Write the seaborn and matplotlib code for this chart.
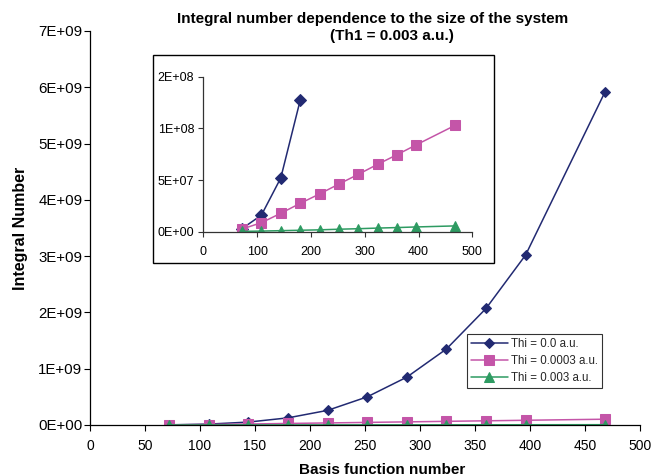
import matplotlib
matplotlib.use("Agg")
import matplotlib.pyplot as plt
import seaborn as sns
import pandas as pd
from matplotlib.patches import Rectangle
from matplotlib.ticker import FuncFormatter, MultipleLocator

# ---- data ----
basis = [72, 108, 144, 180, 216, 252, 288, 324, 360, 396, 468]
thi_00 = [3.0e6, 1.6e7, 5.2e7, 1.27e8, 2.6e8, 5.0e8, 8.5e8, 1.35e9, 2.07e9, 3.02e9, 5.91e9]
thi_0003 = [2.6e6, 8.7e6, 1.78e7, 2.74e7, 3.65e7, 4.61e7, 5.55e7, 6.52e7, 7.45e7, 8.41e7, 1.029e8]
thi_003 = [3.0e5, 6.0e5, 1.0e6, 1.4e6, 1.8e6, 2.4e6, 2.9e6, 3.5e6, 4.0e6, 4.6e6, 5.6e6]
inset_n00 = 4  # the inset shows only the first four points of the Thi = 0.0 series

labels = ["Thi = 0.0 a.u.", "Thi = 0.0003 a.u.", "Thi = 0.003 a.u."]
title1 = "Integral number dependence to the size of the system"
title2 = "(Th1 = 0.003 a.u.)"
xlabel = "Basis function number"
ylabel = "Integral Number"

c_blue = "#222a72"
c_mag = "#c455a8"
c_green = "#2e9b62"

sns.set_theme(style="white")
plt.rcParams["font.family"] = ["Liberation Sans", "DejaVu Sans"]

fig = plt.figure(figsize=(6.56, 4.76), dpi=100)
W, H = 656, 476

def fx(px):
    return px / W

def fy(py):
    return 1 - py / H

# main axes: x 90..640 px, y 31..425 px
ax = fig.add_axes([fx(90), fy(425), fx(640) - fx(90), fy(31) - fy(425)])
df = pd.DataFrame({"x": basis, "a": thi_00, "b": thi_0003, "c": thi_003})

sns.lineplot(data=df, x="x", y="a", ax=ax, color=c_blue, marker="D", markersize=5.5,
             markeredgecolor=c_blue, linewidth=1.1, label=labels[0], estimator=None, sort=False)
sns.lineplot(data=df, x="x", y="b", ax=ax, color=c_mag, marker="s", markersize=6.5,
             markeredgecolor=c_mag, linewidth=1.1, label=labels[1], estimator=None, sort=False)
sns.lineplot(data=df, x="x", y="c", ax=ax, color=c_green, marker="^", markersize=6.5,
             markeredgecolor=c_green, linewidth=1.1, label=labels[2], estimator=None, sort=False)

ax.set_xlim(0, 500)
ax.set_ylim(0, 7e9)
ax.xaxis.set_major_locator(MultipleLocator(50))
ax.yaxis.set_major_locator(MultipleLocator(1e9))
sci = FuncFormatter(lambda v, p: format(v, ".0E"))
ax.yaxis.set_major_formatter(sci)
ax.xaxis.set_major_formatter(FuncFormatter(lambda v, p: f"{v:.0f}"))
for s in ["top", "right"]:
    ax.spines[s].set_visible(False)
for s in ["left", "bottom"]:
    ax.spines[s].set_color("black")
    ax.spines[s].set_linewidth(0.9)
ax.tick_params(axis="both", which="major", direction="out", length=4, width=0.8,
               color="black", labelcolor="black")
ax.tick_params(axis="x", pad=6, labelsize=10)
ax.tick_params(axis="y", pad=1.5, labelsize=10.8)
ax.tick_params(left=True, bottom=True)
ax.set_xlabel("")
ax.set_ylabel("")
ax.grid(False)

fig.text(fx(382), fy(474), xlabel, ha="center", va="baseline", fontsize=11,
         fontweight="bold", color="black")
fig.text(fx(21), fy(228), ylabel, ha="center", va="center", rotation=90,
         fontsize=11.5, fontweight="bold", color="black")

leg = ax.legend(loc="upper left", bbox_to_anchor=((466.7 - 90) / 550, (425 - 334) / 394),
                borderaxespad=0, frameon=True, fancybox=False, fontsize=8.3,
                handlelength=3.2, handletextpad=0.3, labelspacing=0.45,
                borderpad=0.35, edgecolor="black")
leg.get_frame().set_linewidth(0.8)

fig.text(fx(373), fy(19), title1, ha="center", va="center", fontsize=11,
         fontweight="bold", color="black")
fig.text(fx(392), fy(36), title2, ha="center", va="center", fontsize=11,
         fontweight="bold", color="black")

# inset frame
fig.patches.append(Rectangle((fx(153), fy(263)), fx(494) - fx(153), fy(55) - fy(263),
                             transform=fig.transFigure, facecolor="white",
                             edgecolor="black", linewidth=1.0, zorder=2))

iax = fig.add_axes([fx(203.3), fy(231.7), fx(472.3) - fx(203.3), fy(76.7) - fy(231.7)], zorder=3)
iax.patch.set_alpha(0)
sns.lineplot(data=df.iloc[:inset_n00], x="x", y="a", ax=iax, color=c_blue, marker="D",
             markersize=6, markeredgecolor=c_blue, linewidth=1.1, estimator=None, sort=False)
sns.lineplot(data=df, x="x", y="b", ax=iax, color=c_mag, marker="s", markersize=7.5,
             markeredgecolor=c_mag, linewidth=1.1, estimator=None, sort=False)
sns.lineplot(data=df, x="x", y="c", ax=iax, color=c_green, marker="^", markersize=6.5,
             markeredgecolor=c_green, linewidth=1.1, estimator=None, sort=False)
iax.set_xlim(0, 500)
iax.set_ylim(0, 1.5e8)
iax.xaxis.set_major_locator(MultipleLocator(100))
iax.yaxis.set_major_locator(MultipleLocator(5e7))
iax.yaxis.set_major_formatter(sci)
iax.xaxis.set_major_formatter(FuncFormatter(lambda v, p: f"{v:.0f}"))
for s in ["top", "right"]:
    iax.spines[s].set_visible(False)
for s in ["left", "bottom"]:
    iax.spines[s].set_color("#333333")
    iax.spines[s].set_linewidth(0.9)
iax.tick_params(axis="both", which="major", direction="out", length=3.5, width=0.8,
                color="#333333", labelsize=9, labelcolor="black")
iax.tick_params(axis="x", pad=7)
iax.tick_params(axis="y", pad=3)
iax.tick_params(left=True, bottom=True)
iax.set_xlabel("")
iax.set_ylabel("")
iax.grid(False)
if iax.get_legend():
    iax.get_legend().remove()

fig.savefig("out.png", dpi=100)
